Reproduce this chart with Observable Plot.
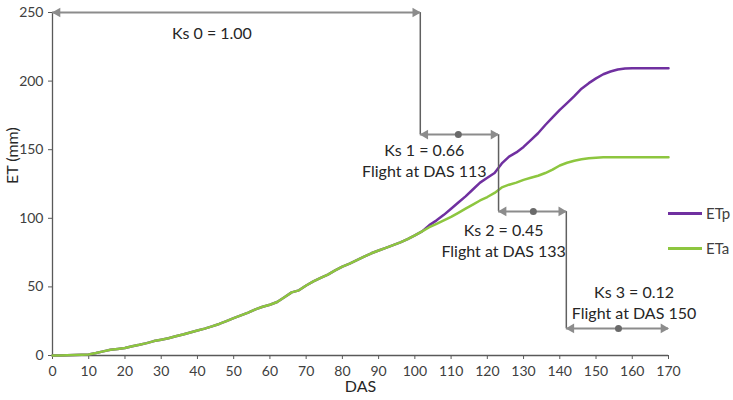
<!DOCTYPE html>
<html><head><meta charset="utf-8">
<script src="https://cdn.jsdelivr.net/npm/d3@7"></script>
<script src="https://cdn.jsdelivr.net/npm/@observablehq/plot@0.6"></script>
<style>
body{margin:0;background:#fff;font-family:Lato,sans-serif}
#wrap{position:relative;width:733px;height:400px}
.legend{position:absolute;left:668px;height:20px;font-size:15px;color:#404040;display:flex;align-items:center;font-family:Lato,sans-serif}
.legend .sw{display:inline-block;width:34px;height:3px;margin-right:4px}
</style></head><body>
<div id="wrap"></div>
<script>
const das = d3.range(0, 171, 2);
const etp = [0,0,0.2,0.3,0.5,0.8,1.8,3,4.2,4.8,5.5,6.8,7.8,9,10.5,11.5,12.6,14,15.3,16.8,18.2,19.6,21.2,23,25,27.2,29.2,31.2,33.6,35.5,37,39,42.5,46,47.5,51,54,56.5,59,62,64.8,67,69.5,72,74.5,76.5,78.5,80.5,82.5,84.8,87.5,90.5,
  95,98.5,102.5,107,111.5,116,121,126,129.5,133,140,145,148,152,157,162,168,173.5,179,184,189,194.5,198.5,202,205,207,208.5,209.2,209.4,209.4,209.4,209.4,209.4,209.4];
const eta = [0,0,0.2,0.3,0.5,0.8,1.8,3,4.2,4.8,5.5,6.8,7.8,9,10.5,11.5,12.6,14,15.3,16.8,18.2,19.6,21.2,23,25,27.2,29.2,31.2,33.6,35.5,37,39,42.5,46,47.5,51,54,56.5,59,62,64.8,67,69.5,72,74.5,76.5,78.5,80.5,82.5,84.8,87.5,90.5,
  93.5,96,98.5,101,104,107,110,113,115.5,118.5,122.5,124.5,126,128,129.5,131,133,135.5,138.5,140.5,142,143,143.7,144.2,144.5,144.5,144.5,144.5,144.5,144.5,144.5,144.5,144.5,144.5];
const seriesNames = ["ETp", "ETa"];
const seriesColors = ["#7030A0", "#8DC63F"];

const ksLabels = ["Ks 0 = 1.00", "Ks 1 = 0.66\nFlight at DAS 113", "Ks 2 = 0.45\nFlight at DAS 133", "Ks 3 = 0.12\nFlight at DAS 150"];
const ksStart = [0, 101.5, 123.1, 141.8];
const ksEnd = [101.5, 123.1, 141.8, 170];
const ksLevel = [250, 161, 105, 19.7];
const ksDot = [null, 112, 132.7, 156.2];
const ksLabelX = [44, 102.6, 124.5, 160.5];
const ksLabelY = [235.5, 142.4, 84.2, 39];

const xTicks = d3.range(0, 171, 10);
const yTicks = d3.range(0, 251, 50);

const rows = (vals) => das.map((d, i) => ({das: d, v: vals[i]}));
const ks = ksLabels.map((t, i) => ({t, x1: ksStart[i], x2: ksEnd[i], y: ksLevel[i], dot: ksDot[i], lx: ksLabelX[i], ly: ksLabelY[i]}));
const verts = ks.slice(0, 3).map((k, i) => ({x: k.x2, y1: k.y, y2: ks[i + 1].y}));
const arrowGray = "#8c8c8c";

const chart = Plot.plot({
  width: 733, height: 400,
  marginLeft: 52, marginRight: 65, marginTop: 12, marginBottom: 45,
  style: {fontFamily: "Lato, sans-serif", fontSize: "14px", color: "#404040", background: "#fff"},
  x: {domain: [0, 170]},
  y: {domain: [0, 250]},
  marks: [
    Plot.axisX({ticks: xTicks, tickSize: 4, tickPadding: 7, label: null, stroke: "#595959", fill: "#404040", fontSize: 14}),
    Plot.axisY({ticks: yTicks, tickSize: 4, tickPadding: 5, label: null, stroke: "#595959", fill: "#404040", fontSize: 14}),
    Plot.ruleX([0], {stroke: "#595959", strokeWidth: 1.3}),
    Plot.ruleY([0], {stroke: "#595959", strokeWidth: 1.3}),
    Plot.text(["DAS"], {frameAnchor: "bottom", dy: 36, fontSize: 16, fill: "#262626"}),
    Plot.text(["ET (mm)"], {frameAnchor: "left", dx: -40, rotate: -90, fontSize: 16, fill: "#262626"}),
    Plot.line(rows(etp), {x: "das", y: "v", stroke: seriesColors[0], strokeWidth: 2.5}),
    Plot.line(rows(eta), {x: "das", y: "v", stroke: seriesColors[1], strokeWidth: 2.5}),
    Plot.ruleX(verts, {x: "x", y1: "y1", y2: "y2", stroke: "#606060", strokeWidth: 1.5}),
    Plot.ruleY(ks, {y: "y", x1: "x1", x2: "x2", stroke: arrowGray, strokeWidth: 2}),
    Plot.dot(ks, {x: "x1", y: "y", symbol: "triangle", r: 3.6, rotate: -90, dx: 5, fill: arrowGray}),
    Plot.dot(ks, {x: "x2", y: "y", symbol: "triangle", r: 3.6, rotate: 90, dx: -5, fill: arrowGray}),
    Plot.dot(ks.filter(k => k.dot != null), {x: "dot", y: "y", r: 3.5, fill: "#6a6a6a"}),
    Plot.text(ks, {x: "lx", y: "ly", text: "t", fontSize: 16, lineHeight: 1.3, fill: "#262626"})
  ]
});
const wrap = document.getElementById("wrap");
wrap.appendChild(chart);
const legTops = [203, 238];
seriesNames.forEach((n, i) => {
  const d = document.createElement("div");
  d.className = "legend";
  d.style.top = legTops[i] + "px";
  d.innerHTML = `<span class="sw" style="background:${seriesColors[i]}"></span>${n}`;
  wrap.appendChild(d);
});
</script>
</body></html>
